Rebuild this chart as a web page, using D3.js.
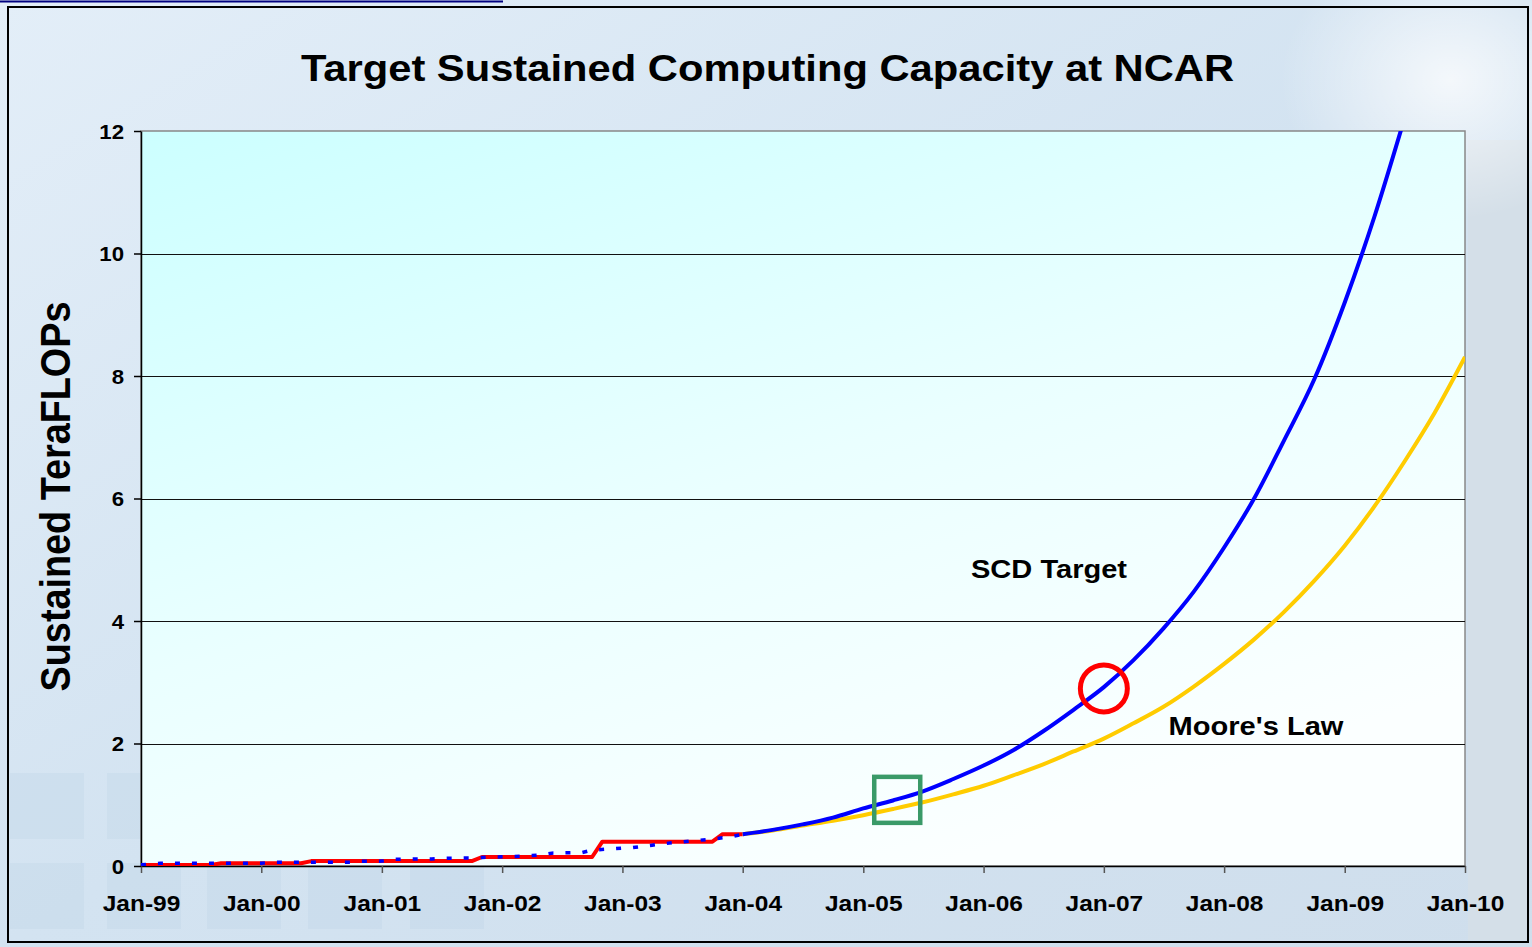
<!DOCTYPE html>
<html>
<head>
<meta charset="utf-8">
<script src="https://cdn.jsdelivr.net/npm/d3@7"></script>
<style>
  body { margin: 0; background: #d3e3f0; }
  svg { display: block; font-family: "Liberation Sans", Arial, sans-serif; }
</style>
</head>
<body>
<svg width="1532" height="947"></svg>
<script>
// ---- data ----
var xTickDates = ["1999-01","2000-01","2001-01","2002-01","2003-01","2004-01",
                  "2005-01","2006-01","2007-01","2008-01","2009-01","2010-01"];
var yTicks = [0, 2, 4, 6, 8, 10, 12];

// red : actual capacity (step line)
var actualDates  = ["1999-01","1999-08","1999-09","2000-05","2000-06","2001-10","2001-11",
                    "2002-10","2002-11","2003-10","2003-11","2004-01"];
var actualValues = [0.016, 0.016, 0.044, 0.044, 0.08, 0.08, 0.147,
                    0.147, 0.397, 0.397, 0.52, 0.52];

// blue dotted : SCD target before 2004
var targetPastDates  = ["1999-01","1999-03","2000-01","2000-02","2000-10","2000-11","2001-01",
                        "2001-02","2001-06","2001-07","2001-10","2001-11","2002-01","2002-03",
                        "2002-05","2002-06","2002-09","2002-10","2002-12","2003-02","2003-04",
                        "2003-06","2003-08","2003-10","2003-12","2004-01"];
var targetPastValues = [0.02, 0.044, 0.046, 0.06, 0.062, 0.077, 0.08,
                        0.11, 0.115, 0.125, 0.13, 0.14, 0.15, 0.16,
                        0.18, 0.21, 0.22, 0.26, 0.28, 0.30, 0.34,
                        0.38, 0.41, 0.44, 0.48, 0.52];

// blue solid : SCD target from 2004 (quarterly)
var targetDates  = ["2004-01","2004-04","2004-07","2004-10","2005-01","2005-04","2005-07","2005-10",
                    "2006-01","2006-04","2006-07","2006-10","2007-01","2007-04","2007-07","2007-10",
                    "2008-01","2008-04","2008-07","2008-10","2009-01","2009-04","2009-07"];
var targetValues = [0.52, 0.59, 0.68, 0.79, 0.94, 1.07, 1.22, 1.42,
                    1.64, 1.89, 2.2, 2.55, 2.92, 3.36, 3.88, 4.48,
                    5.2, 6.0, 6.95, 7.95, 9.2, 10.6, 12.2];

// yellow : Moore's Law (quarterly)
var mooreDates  = ["2004-01","2004-04","2004-07","2004-10","2005-01","2005-04","2005-07","2005-10",
                   "2006-01","2006-04","2006-07","2006-10","2007-01","2007-04","2007-07","2007-10",
                   "2008-01","2008-04","2008-07","2008-10","2009-01","2009-04","2009-07","2009-10",
                   "2010-01"];
var mooreValues = [0.52, 0.58, 0.66, 0.74, 0.83, 0.93, 1.04, 1.17,
                   1.31, 1.48, 1.66, 1.87, 2.08, 2.33, 2.6, 2.93,
                   3.3, 3.7, 4.15, 4.66, 5.23, 5.87, 6.6, 7.4,
                   8.31];

// annotation marks
var circleMark = {date: "2007-01-01", value: 2.9};
var squareMark = {date: "2005-04-14", value: 1.08};

var STRETCH = 1.14;  // glyphs in the picture are a bit wide

var parse = d3.timeParse("%Y-%m");
var parseDay = d3.timeParse("%Y-%m-%d");
function zipSeries(dates, values){
    return dates.map(function(d, i){ return {date: parse(d), value: values[i]} })
}

var svg = d3.select("svg");
var margin = {top: 131, right: 67, bottom: 81, left: 141},
    W = 1532, H = 947,
    width = W - margin.left - margin.right,
    height = H - margin.top - margin.bottom;

var x = d3.scaleTime()
    .domain([parse("1999-01"), parse("2010-01")])
    .range([margin.left, margin.left + width]);
var y = d3.scaleLinear().domain([0, 12]).range([margin.top + height, margin.top]);

// ---- background ----
var defs = svg.append("defs");
var bg = defs.append("linearGradient").attr("id","bg")
    .attr("x1","0").attr("y1","0").attr("x2","1").attr("y2","1");
bg.append("stop").attr("offset","0").attr("stop-color","#e3eef8");
bg.append("stop").attr("offset","0.5").attr("stop-color","#d3e3f1");
bg.append("stop").attr("offset","1").attr("stop-color","#cfdeec");

var glow = defs.append("radialGradient").attr("id","glow");
glow.append("stop").attr("offset","0").attr("stop-color","#ffffff").attr("stop-opacity",0.75);
glow.append("stop").attr("offset","1").attr("stop-color","#ffffff").attr("stop-opacity",0);

var plotBg = defs.append("linearGradient").attr("id","plotbg")
    .attr("x1","0").attr("y1","0").attr("x2","0.6").attr("y2","1");
plotBg.append("stop").attr("offset","0").attr("stop-color","#ccffff");
plotBg.append("stop").attr("offset","0.55").attr("stop-color","#eaffff");
plotBg.append("stop").attr("offset","1").attr("stop-color","#fbffff");

defs.append("clipPath").attr("id","plotclip").append("rect")
    .attr("x", margin.left).attr("y", margin.top).attr("width", width).attr("height", height);

svg.append("rect").attr("width", W).attr("height", H).attr("fill","url(#bg)");
svg.append("rect").attr("x",1468).attr("y",140).attr("width",60).attr("height",800)
    .attr("fill","#d4dfe8");
svg.append("ellipse").attr("cx",1450).attr("cy",80).attr("rx",170).attr("ry",140)
    .attr("fill","url(#glow)");

// faint squares, lower left
var squares = [[10,773],[107,773],[10,863],[107,863],[207,863],[308,863],[410,863]];
svg.selectAll(".deco").data(squares).enter().append("rect")
    .attr("x", function(d){ return d[0] }).attr("y", function(d){ return d[1] })
    .attr("width", 74).attr("height", 66)
    .attr("fill","#b8cfe4").attr("opacity",0.25);

// frame
svg.append("rect").attr("x",8).attr("y",7).attr("width",1520).attr("height",935)
    .attr("fill","none").attr("stroke","#000").attr("stroke-width",2);
svg.append("line").attr("x1",0).attr("x2",503).attr("y1",1.5).attr("y2",1.5)
    .attr("stroke","#000080").attr("stroke-width",2);

// plot area
svg.append("rect")
    .attr("x", margin.left).attr("y", margin.top).attr("width", width).attr("height", height)
    .attr("fill","url(#plotbg)").attr("stroke","#888").attr("stroke-width",1.5);

// gridlines
svg.selectAll(".grid").data(yTicks.filter(function(t){ return t > 0 && t < 12 }))
    .enter().append("line")
    .attr("x1", margin.left).attr("x2", margin.left + width)
    .attr("y1", function(d){ return Math.round(y(d)) + 0.5 })
    .attr("y2", function(d){ return Math.round(y(d)) + 0.5 })
    .attr("stroke","#111").attr("stroke-width",1);

// axes
var xAxis = d3.axisBottom(x)
    .tickValues(xTickDates.map(parse))
    .tickFormat(d3.timeFormat("%b-%y"))
    .tickSize(7).tickSizeOuter(0);
var yAxis = d3.axisLeft(y).tickValues(yTicks).tickSize(7).tickSizeOuter(0);

var gx = svg.append("g").attr("transform","translate(0," + (margin.top + height) + ")").call(xAxis);
gx.select(".domain").attr("stroke","#000").attr("stroke-width",1.5);
gx.selectAll(".tick line").attr("stroke","#555").attr("stroke-width",1.5);
gx.selectAll(".tick text")
    .attr("y", 0).attr("dy", null)
    .attr("transform","translate(0,45) scale(" + STRETCH + ",1)")
    .attr("font-size", 21.5).attr("font-weight","bold").attr("fill","#000")
    .attr("font-family","Liberation Sans, Arial, sans-serif");

var gy = svg.append("g").attr("transform","translate(" + margin.left + ",0)").call(yAxis);
gy.select(".domain").attr("stroke","#000").attr("stroke-width",1.5);
gy.selectAll(".tick line").attr("stroke","#000").attr("stroke-width",1.5);
gy.selectAll(".tick text")
    .attr("x", -17 / STRETCH).attr("dy", null).attr("y", 7)
    .attr("transform","scale(" + STRETCH + ",1)")
    .attr("font-size", 19.5).attr("font-weight","bold").attr("fill","#000")
    .attr("font-family","Liberation Sans, Arial, sans-serif");

// ---- lines ----
var valueLine = d3.line()
    .x(function(d){ return x(d.date) })
    .y(function(d){ return y(d.value) });
var smoothLine = d3.line()
    .curve(d3.curveMonotoneX)
    .x(function(d){ return x(d.date) })
    .y(function(d){ return y(d.value) });

var plot = svg.append("g").attr("clip-path","url(#plotclip)");

function newPath(data, color, dash, gen){
    plot.append("path")
        .datum(data)
        .attr("fill","none")
        .attr("stroke", color)
        .attr("stroke-width", dash ? 3.5 : 4)
        .attr("stroke-dasharray", dash || null)
        .attr("stroke-linejoin","round")
        .attr("d", gen || valueLine);
}

newPath(zipSeries(actualDates, actualValues), "#ff0000");
newPath(zipSeries(targetPastDates, targetPastValues), "#0000ff", "5,12");
newPath(zipSeries(mooreDates, mooreValues), "#ffcc00", null, smoothLine);
newPath(zipSeries(targetDates, targetValues), "#0000ff", null, smoothLine);

// annotation marks
svg.append("rect")
    .attr("x", x(parseDay(squareMark.date)) - 23).attr("y", y(squareMark.value) - 23)
    .attr("width", 46).attr("height", 46)
    .attr("fill","none").attr("stroke","#3a9a68").attr("stroke-width",4.5);
svg.append("circle")
    .attr("cx", x(parseDay(circleMark.date))).attr("cy", y(circleMark.value)).attr("r", 23.5)
    .attr("fill","none").attr("stroke","#ff0000").attr("stroke-width",5);

// ---- text ----
function label(txt, px, py, size, anchor){
    svg.append("text")
        .attr("transform","translate(" + px + "," + py + ") scale(" + STRETCH + ",1)")
        .attr("text-anchor", anchor || "middle")
        .attr("font-size", size).attr("font-weight","bold").attr("fill","#000")
        .text(txt);
}
label("Target Sustained Computing Capacity at NCAR", 767.5, 81, 36.6);
label("SCD Target", 1049, 578, 25.5);
label("Moore's Law", 1256, 735, 25.5);

svg.append("text")
    .attr("transform","translate(70,496.5) scale(" + STRETCH + ",1) rotate(-90)")
    .attr("text-anchor","middle")
    .attr("font-size", 37.8).attr("font-weight","bold").attr("fill","#000")
    .text("Sustained TeraFLOPs");
</script>
</body>
</html>
